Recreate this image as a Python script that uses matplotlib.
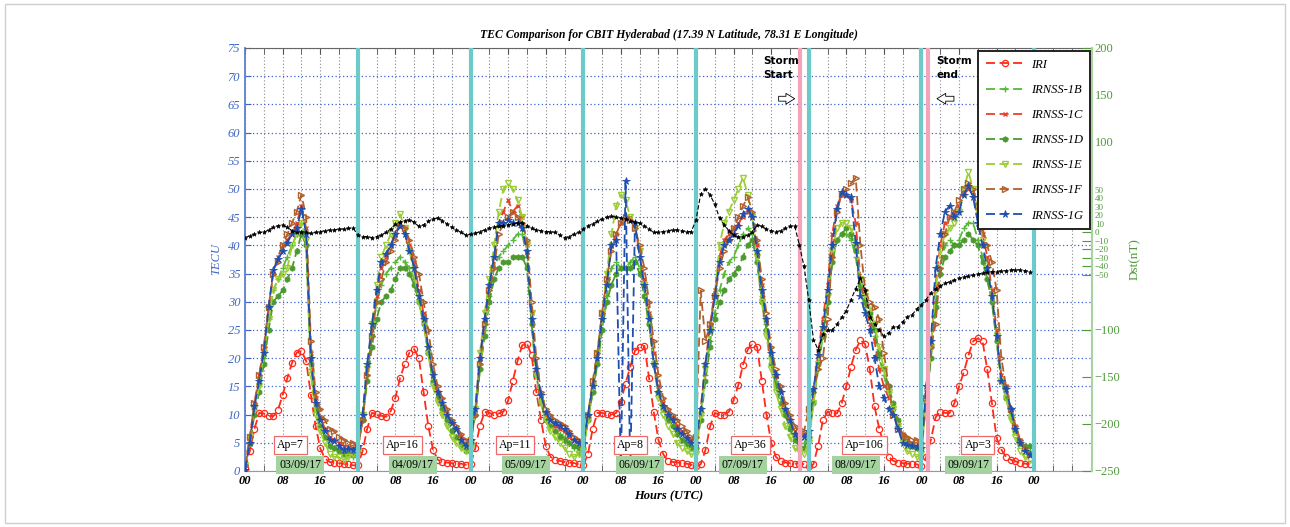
import matplotlib
matplotlib.use("Agg")
import matplotlib.pyplot as plt
import numpy as np
from matplotlib.patches import FancyArrowPatch, Rectangle

# ---------------- data (hourly, 03/09/17 00 UT ... 09/09/17 23 UT) ----------------
hours = np.arange(168)

iri = [0.5, 3.5, 7.5, 10.3, 10.2, 9.8, 9.7, 10.8, 13.5, 16.5, 19.2, 21.0, 21.3, 19.5, 13.5, 8.0, 4.0, 2.2, 1.6, 1.5, 1.4, 1.3, 1.2, 1.0,
       1.0, 3.5, 7.5, 10.3, 10.1, 9.8, 9.6, 10.6, 13.0, 16.5, 19.0, 21.0, 21.6, 20.0, 14.0, 8.0, 3.8, 2.0, 1.6, 1.5, 1.4, 1.3, 1.3, 1.1,
       1.2, 4.0, 8.0, 10.5, 10.3, 10.0, 10.2, 10.5, 12.5, 16.0, 19.5, 22.3, 22.6, 20.5, 14.0, 9.0, 4.5, 2.5, 2.0, 1.8, 1.6, 1.5, 1.4, 1.2,
       1.0, 3.0, 7.5, 10.3, 10.3, 10.1, 10.0, 10.3, 12.3, 15.5, 18.5, 21.3, 22.0, 22.2, 16.5, 10.5, 5.5, 3.0, 1.8, 1.6, 1.5, 1.4, 1.3, 1.1,
       0.8, 1.2, 3.7, 7.9, 10.3, 10.0, 10.0, 10.5, 12.6, 15.2, 18.8, 21.5, 22.6, 22.0, 16.0, 10.0, 5.0, 2.5, 1.8, 1.5, 1.4, 1.3, 1.3, 1.2,
       0.8, 1.2, 4.5, 9.0, 10.5, 10.2, 10.2, 12.0, 15.0, 18.5, 21.5, 23.2, 22.5, 18.0, 11.5, 7.5, 4.8, 2.5, 1.8, 1.5, 1.4, 1.3, 1.3, 1.2,
       0.8, 2.5, 5.5, 9.5, 10.5, 10.3, 10.3, 12.0, 15.0, 17.5, 20.5, 23.0, 23.5, 23.0, 18.0, 12.0, 5.8, 3.8, 2.5, 2.0, 1.7, 1.5, 1.3, 1.2]

irnss_1b = [1, 5, 11, 15, 20, 27, 32, 34, 36, 38, 40, 42, 44, 40, 18, 11, 8, 6, 4.5, 4, 3.5, 3, 3, 2.5,
            4, 9, 17, 24, 30, 33, 35, 36, 37, 38, 37, 36, 34, 30, 26, 21, 16, 13, 11, 9, 7, 6, 5, 4,
            5, 10, 18, 25, 31, 36, 38, 39, 40, 41, 42, 42, 38, 26, 17, 12, 9, 8, 7, 6.5, 6, 5, 4, 3,
            4, 9, 14, 19, 25, 31, 36, 37, 36, 36, 37, 38, 36, 32, 26, 19, 14, 11, 9, 8, 6.5, 5.5, 4.5, 4,
            4, 10, 17, 23, 28, 32, 35, 37, 38, 40, 42, 43, 42, 37, 31, 26, 20, 16, 13, 10, 8, 6, 5, 5,
            6, 12, 18, 24, 30, 37, 41, 42, 42, 41, 38, 32, 29, 27, 24, 20, 17, 14, 11, 8, 6, 5, 4.5, 4,
            5, 12, 20, 30, 36, 40, 41, 40, 41, 43, 44, 44, 41, 38, 34, 30, 23, 16, 13, 10, 7, 5, 4, 3.5]

irnss_1c = [0.5, 6, 12, 17, 22, 29, 35, 38, 40, 41, 42, 44, 47, 43, 21, 13, 9.5, 7.5, 6, 5.5, 5, 4.5, 4.2, 4,
            4, 9, 18, 25, 31, 36, 38, 40, 42, 44, 43, 40, 37, 32, 28, 22, 17, 14, 12, 10, 8.5, 7.5, 6, 5,
            6, 11, 20, 27, 33, 38, 44, 46, 48, 46, 47, 45, 40, 28, 18, 13, 10, 9, 8, 7.5, 7, 6, 5.5, 5,
            5, 10, 15, 21, 28, 34, 40, 42, 44, 45, 45, 43, 39, 34, 28, 21, 15, 12, 10.5, 9.5, 8, 7, 6, 5.5,
            5, 11, 19, 26, 32, 38, 41, 42, 43, 44, 45, 46, 45, 40, 33, 27, 21, 17, 14, 11, 9, 7, 6, 6.5,
            7, 14, 21, 27, 33, 42, 47, 49, 49, 48, 44, 34, 30, 26, 23, 18, 15, 13, 11, 8.5, 6.5, 5.5, 5, 4.5,
            5, 14, 22, 33, 40, 44, 45, 46, 47, 49, 50, 49, 46, 42, 38, 32, 25, 17, 15, 11, 8, 5.5, 4, 3]

irnss_1d = [1, 5, 10, 14, 19, 25, 30, 31, 32, 34, 36, 39, 42, 40, 19, 11, 8, 6, 4.5, 4, 3.5, 3, 3, 3,
            4, 9, 16, 22, 27, 30, 31, 32, 34, 36, 36, 35, 33, 30, 26, 21, 16, 13, 11, 9, 7, 6, 4.5, 3.5,
            5, 10, 18, 24, 30, 34, 36, 37, 37, 38, 38, 38, 36, 26, 17, 12, 9, 8, 7, 6, 5.5, 5, 4.5, 4,
            4, 9, 14, 19, 25, 30, 33, 35, 36, 36, 36, 37, 35, 31, 26, 19, 14, 11, 9, 8, 6.5, 5.5, 5, 4,
            4, 9, 16, 22, 27, 30, 32, 34, 35, 36, 38, 40, 41, 37, 30, 25, 19, 15, 12, 10, 7.5, 5.5, 4.5, 4,
            6, 12, 19, 24, 30, 37, 41, 42, 43, 42, 39, 33, 30, 28, 25, 21, 18, 15, 12, 9, 6, 5, 4.5, 4,
            4, 12, 20, 29, 35, 38, 39, 40, 40, 41, 42, 41, 40, 37, 34, 30, 23, 16, 13, 10, 7, 5, 4.5, 4.5]

irnss_1e = [1, 6, 11, 15, 21, 27, 32, 34, 35, 36, 40, 42, 44, 41, 17, 10, 7, 5, 3, 2.5, 2.5, 2, 2.5, 3,
            3.5, 10, 18, 26, 33, 38, 40, 42, 44, 45.5, 43, 39, 35, 30, 26, 21, 15, 12, 10, 8, 6, 5, 4, 3.5,
            4, 11, 21, 28, 34, 40, 46, 50, 51, 50, 48, 45, 40, 28, 17, 12, 9, 7, 6, 5, 4, 3, 2.5, 3,
            3.5, 9, 15, 21, 28, 35, 42, 47, 49, 48, 45, 43, 39, 33, 27, 19, 13, 10, 8, 6.5, 5, 4, 3.5, 3,
            3, 10, 18, 25, 31, 40, 44, 46, 48, 50, 52, 49, 45, 38, 30, 24, 18, 14, 11, 8, 6, 4, 3.5, 3,
            5, 12, 19, 25, 31, 39, 43, 44, 44, 43, 40, 34, 31, 29, 26, 22, 18, 14, 11, 8, 5, 3.5, 3, 2.5,
            3, 13, 22, 32, 39, 42, 43, 44, 46, 50, 53, 50, 46, 41, 36, 31, 24, 16, 13, 9, 6, 3.5, 2.5, 2]

irnss_1f = [1, 6, 12, 17, 22, 29, 35, 37, 40, 42, 44, 46, 49, 45, 23, 14, 11, 9, 7.5, 7, 6, 5.5, 5, 5,
            4.5, 9, 17, 24, 30, 34, 37, 39, 41, 43.5, 43, 41, 38, 35, 30, 25, 19, 15, 13, 11, 9, 8, 6.5, 5.5,
            5.5, 10, 19, 26, 32, 36, 42, 44, 45, 46, 45, 44, 41, 30, 20, 14, 11, 10, 9, 8.5, 8, 7, 6, 5.5,
            5, 10, 16, 21, 28, 34, 39, 42, 44, 45, 44.5, 43, 40, 36, 30, 23, 17, 13, 11, 10, 9, 8, 7, 6,
            6, 32, 23, 26, 31, 36, 39, 41, 43, 45, 47, 48.5, 46, 41, 34, 28, 22, 18, 15, 12, 10, 8, 7, 7,
            11, 14, 18, 20, 27, 38, 46, 49, 50, 51, 52, 40, 32, 30, 29, 27, 21, 15, 10, 7.5, 6.5, 6, 5.5, 5.5,
            5, 13, 22, 26, 36, 42, 45, 46, 48, 50, 51, 50, 47, 43, 40, 37, 32, 20, 15, 11, 8, 5.5, 4, 3]

irnss_1g = [0.2, 5, 11.5, 16, 21, 29, 35.6, 37.5, 39, 40.5, 42, 43, 46.5, 42, 20, 12, 9, 7, 5.5, 5.3, 4.5, 3.7, 3.9, 3.7,
            4.5, 10, 19, 26, 32, 37, 38.5, 40, 42, 43.5, 42, 39, 36, 31, 27, 22, 17, 14, 12, 10, 8.5, 7.5, 5.5, 4.5,
            5.5, 11, 20, 27, 33, 38, 44, 44, 44.5, 44, 44, 43, 39, 27, 18, 13.5, 10.5, 9, 8.5, 8, 7.5, 6.5, 5.5, 5,
            5, 10, 15, 20, 27, 33, 40, 41, 0, 51.5, 0, 44, 38, 33, 27, 19, 14, 11.5, 10, 9, 7.5, 6.5, 5.8, 5,
            5, 11, 19, 25, 31, 37, 40, 41, 42, 43.5, 45.5, 46.5, 45, 39, 32, 27, 21, 17, 14, 11, 9, 6.5, 5.5, 6,
            7, 14.5, 20.5, 25.5, 32, 40, 46.5, 49.5, 49, 48.5, 40.5, 31, 28, 25, 20, 15, 13, 11, 10, 7.5, 5, 4.6, 4.4, 4.3,
            4, 15, 23, 36, 42, 46, 47, 45, 46, 49, 50.5, 48.5, 44, 40, 36, 31, 24, 16, 14.5, 11, 7.5, 5, 3.5, 2.8]

dst = [-6, -4, -2, 0, 0, 3, 6, 8, 9, 6, 2, 0, 1, 0, -1, 0, 1, 2, 3, 3, 4, 4, 5, 5,
       -3, -5, -5, -6, -5, -3, 0, 4, 10, 12, 14, 15, 12, 7, 9, 13, 16, 17, 14, 10, 6, 3, 0, -3,
       -2, -1, 1, 3, 5, 6, 7, 8, 9, 10, 11, 11, 8, 5, 3, 2, 1, 1, 0, -3, -6, -5, -2, 0,
       4, 8, 10, 13, 16, 18, 19, 18, 17, 16, 14, 12, 11, 8, 4, 0, 0, 1, 2, 3, 3, 2, 1, 1,
       15, 45, 51, 44, 33, 17, 9, 2, -3, -5, -5, -3, 0, 9, 7, 4, 2, 1, 2, 5, 7, 8, -15, -40,
       -80, -126, -138, -120, -115, -115, -108, -100, -92, -79, -66, -54, -68, -99, -108, -115, -122, -118, -111, -111, -105, -99, -97, -90,
       -85, -79, -71, -66, -63, -60, -58, -56, -54, -53, -51, -50, -49, -48, -47, -46, -46, -45, -45, -44, -44, -44, -45, -46]

day_lines = [24, 48, 72, 96, 120, 144, 168]
storm_lines = [118.2, 145.3]
ap_labels = ["Ap=7", "Ap=16", "Ap=11", "Ap=8", "Ap=36", "Ap=106", "Ap=3"]
ap_pos = [9.6, 33.5, 57.5, 82.0, 107.6, 131.8, 156.0]
date_labels = ["03/09/17", "04/09/17", "05/09/17", "06/09/17", "07/09/17", "08/09/17", "09/09/17"]
date_pos = [11.7, 35.7, 59.7, 84.0, 106.0, 130.0, 154.0]
xtick_pos = list(range(0, 169, 8))
xtick_labels = ["00", "08", "16"] * 7 + ["00"]

# ---------------- styling ----------------
SERIF = "Liberation Serif"
BLUE_AX = "#3f66c4"
GREEN_AX = "#4f9a3c"

fig = plt.figure(figsize=(12.9, 5.27), dpi=100)
fig.patches.append(Rectangle((0.004, 0.008), 0.992, 0.984, transform=fig.transFigure,
                             fill=False, edgecolor="#cfcfcf", linewidth=1.0))
ax = fig.add_axes([0.190, 0.1063, 0.6565, 0.8027])
ax.set_xlim(0, 180.3)
ax.set_ylim(0, 75)

series = [
    ("IRI", iri, dict(color="#ff2a1a", marker="o", mfc="none", ms=4.5, mew=0.9)),
    ("IRNSS-1B", irnss_1b, dict(color="#58b83a", marker="+", ms=5, mew=1.0)),
    ("IRNSS-1C", irnss_1c, dict(color="#e8402a", marker="x", ms=3, mew=1.0)),
    ("IRNSS-1D", irnss_1d, dict(color="#4c9a2e", marker="h", ms=4, mew=0.6)),
    ("IRNSS-1E", irnss_1e, dict(color="#9ccd34", marker="v", mfc="none", ms=5, mew=1.0)),
    ("IRNSS-1F", irnss_1f, dict(color="#b0602c", marker=">", mfc="none", ms=5, mew=1.0)),
    ("IRNSS-1G", irnss_1g, dict(color="#1f4fae", marker="*", ms=5.5, mew=0.6)),
]
handles = []
for name, vals, st in series:
    h, = ax.plot(hours, vals, linestyle=(0, (5, 2.5)), linewidth=1.3, label=name, zorder=3, **st)
    handles.append(h)

# grids
ax.set_yticks(np.arange(0, 76, 5))
ax.yaxis.grid(True, linestyle=(0, (1, 2)), color="#3a62d0", linewidth=0.9)
ax.set_xticks(xtick_pos)
ax.set_xticks(np.arange(0, 181, 4), minor=True)
ax.xaxis.grid(True, which="both", linestyle=(0, (1, 2)), color="#8a8a8a", linewidth=0.8)
ax.set_axisbelow(True)

for d in day_lines:
    ax.axvline(d, color="#6ccaca", linewidth=3, zorder=6)
for s in storm_lines:
    ax.axvline(s, color="#f4a3b8", linewidth=3, zorder=6)

ax.set_xticklabels(xtick_labels, fontfamily=SERIF, fontstyle="italic", fontweight="bold", fontsize=9)
ax.tick_params(axis="x", which="both", direction="in", top=True, length=4, color="#555555", pad=3)
ax.tick_params(axis="y", which="both", direction="in", left=True, right=True, length=4,
               color=BLUE_AX, labelcolor=BLUE_AX, labelsize=9)
for lab in ax.get_yticklabels():
    lab.set_fontfamily(SERIF)
    lab.set_fontstyle("italic")
ax.set_ylabel("TECU", fontfamily=SERIF, fontstyle="italic", color=BLUE_AX, fontsize=9, labelpad=4)
ax.set_xlabel("Hours (UTC)", fontfamily=SERIF, fontstyle="italic", fontweight="bold", fontsize=9, labelpad=2)
ax.set_title("TEC Comparison for CBIT Hyderabad (17.39 N Latitude, 78.31 E Longitude)",
             fontfamily=SERIF, fontstyle="italic", fontweight="bold", fontsize=8.5, pad=7)
ax.spines["left"].set_color("#5a80d2")
ax.spines["left"].set_linewidth(1.3)
ax.spines["top"].set_color("#666666")
ax.spines["bottom"].set_color("#999999")
ax.spines["right"].set_visible(False)

# Ap and date boxes
for lab, p in zip(ap_labels, ap_pos):
    ax.text(p, 4.6, lab, ha="center", va="center", fontfamily=SERIF, fontsize=8.5, zorder=8,
            bbox=dict(boxstyle="square,pad=0.25", facecolor="white", edgecolor="#ee6a6a", linewidth=0.9))
for lab, p in zip(date_labels, date_pos):
    ax.text(p, 1.0, lab, ha="center", va="center", fontfamily=SERIF, fontsize=8.5, zorder=8,
            bbox=dict(boxstyle="square,pad=0.25", facecolor="#a4d3a0", edgecolor="none"))

# storm annotations
ax.text(110.3, 73.5, "Storm\nStart", ha="left", va="top", fontsize=7.5, fontweight="bold",
        linespacing=1.5, zorder=8)
ax.add_patch(FancyArrowPatch((113.0, 66.0), (117.6, 66.0),
                             arrowstyle="simple,head_width=0.55,head_length=0.45,tail_width=0.25",
                             mutation_scale=14, facecolor="white", edgecolor="black", linewidth=0.6, zorder=8))
ax.text(147.2, 73.5, "Storm\nend", ha="left", va="top", fontsize=7.5, fontweight="bold",
        linespacing=1.5, zorder=8)
ax.add_patch(FancyArrowPatch((151.5, 66.0), (146.7, 66.0),
                             arrowstyle="simple,head_width=0.55,head_length=0.45,tail_width=0.25",
                             mutation_scale=14, facecolor="white", edgecolor="black", linewidth=0.6, zorder=8))

# Dst series axis (fine ticks)
ax2 = ax.twinx()
ax2.set_ylim(-280.6, 217)
ax2.plot(hours, dst, color="black", linestyle=(0, (4, 2)), linewidth=0.8, marker="*", ms=3.2, mew=0.4, zorder=4)
ax2.set_yticks(np.arange(-50, 51, 10))
ax2.tick_params(axis="y", direction="in", length=7, color=GREEN_AX, labelcolor=GREEN_AX,
                labelsize=6.5, pad=2)
for lab in ax2.get_yticklabels():
    lab.set_fontfamily(SERIF)
for sp in ax2.spines.values():
    sp.set_visible(False)

# Dst main scale axis
ax3 = ax.twinx()
ax3.set_ylim(-250, 200)
ax3.set_yticks([200, 150, 100, -100, -150, -200, -250])
ax3.tick_params(axis="y", direction="in", length=7, color=GREEN_AX, labelcolor=GREEN_AX,
                labelsize=9, pad=2)
for lab in ax3.get_yticklabels():
    lab.set_fontfamily(SERIF)
for k, sp in ax3.spines.items():
    sp.set_visible(k == "right")
ax3.spines["right"].set_color("#a9d3a0")
ax3.spines["right"].set_linewidth(1.5)
ax3.set_ylabel("Dst(nT)", fontfamily=SERIF, color=GREEN_AX, fontsize=9.5, labelpad=6)

leg = ax3.legend(handles=handles, loc="upper right", bbox_to_anchor=(0.998, 0.992), borderaxespad=0,
                 prop=dict(family=SERIF, style="italic", size=9), handlelength=3.0, labelspacing=1.05,
                 frameon=True, fancybox=False, edgecolor="#222222", framealpha=1, borderpad=0.6,
                 handletextpad=0.6)
leg.get_frame().set_linewidth(1.4)
leg.set_zorder(20)

fig.savefig("out.png", dpi=100)
